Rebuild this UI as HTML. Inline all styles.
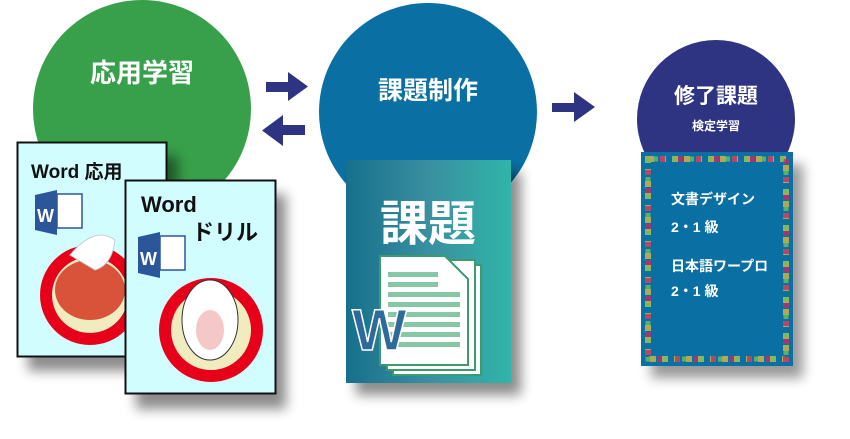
<!DOCTYPE html>
<html><head><meta charset="utf-8"><style>
html,body{margin:0;padding:0;background:#fff;}
svg{display:block}
text{font-family:"Liberation Sans","Noto Sans CJK JP",sans-serif;font-weight:bold}
</style></head><body>
<svg width="850" height="439" viewBox="0 0 850 439" xmlns="http://www.w3.org/2000/svg">
<defs>
<filter id="sh" x="-20%" y="-20%" width="150%" height="150%"><feGaussianBlur stdDeviation="6"/></filter>
<linearGradient id="tg" x1="0" x2="1"><stop offset="0" stop-color="#16708c"/><stop offset="0.5" stop-color="#3a8fa0"/><stop offset="1" stop-color="#30b5a8"/></linearGradient>
</defs>
<circle cx="142" cy="109" r="109" fill="#38a04b"/>
<circle cx="428" cy="112" r="109" fill="#0a6fa3"/>
<circle cx="716" cy="119" r="79" fill="#2e3481"/>
<text x="142" y="82" fill="#fff" font-size="26" text-anchor="middle">応用学習</text>
<text x="428" y="99" fill="#fff" font-size="25" text-anchor="middle">課題制作</text>
<text x="716" y="103" fill="#fff" font-size="21" text-anchor="middle">修了課題</text>
<text x="716" y="130" fill="#fff" font-size="12" text-anchor="middle">検定学習</text>
<g fill="#2e3481">
<polygon points="266,82 288,82 288,72 308,86.5 288,101 288,92 266,92"/>
<polygon points="305,125 283,125 283,115 262,130.5 283,146 283,135 305,135"/>
<polygon points="552,103 574,103 574,92 595,107 574,122 574,112 552,112"/>
</g>
<rect x="28" y="156" width="150" height="215" fill="#000" opacity="0.45" filter="url(#sh)"/>
<rect x="136" y="194" width="150" height="215" fill="#000" opacity="0.45" filter="url(#sh)"/>
<rect x="356" y="172" width="165" height="223" fill="#000" opacity="0.45" filter="url(#sh)"/>
<rect x="651" y="164" width="152" height="214" fill="#000" opacity="0.4" filter="url(#sh)"/>
<rect x="17.5" y="142.5" width="149" height="214" fill="#d2fdfe" stroke="#111" stroke-width="2"/>
<text x="31" y="178" font-size="19" fill="#111">Word 応用</text>
<polygon points="35,195 57,190 57,235 35,230" fill="#2b579a"/>
<rect x="57" y="194" width="25" height="34" fill="#fff" stroke="#2b579a" stroke-width="1.5"/>
<text x="37" y="222" fill="#fff" font-size="18">W</text>
<circle cx="90" cy="295" r="50" fill="#e6001a"/>
<circle cx="90" cy="295" r="38" fill="#f0ecc0"/>
<ellipse cx="90" cy="290" rx="35" ry="30" fill="#d9533a"/>
<path d="M70,255 Q95,225 115,240 Q112,265 95,270 Z" fill="#fff" stroke="#ccc"/>
<rect x="125.5" y="180.5" width="150" height="213" fill="#d2fdfe" stroke="#111" stroke-width="2"/>
<text x="141" y="212" font-size="22" fill="#111">Word</text>
<text x="192" y="240" font-size="22" fill="#111">ドリル</text>
<polygon points="138,237 160,232 160,278 138,273" fill="#2b579a"/>
<rect x="160" y="236" width="25" height="34" fill="#fff" stroke="#2b579a" stroke-width="1.5"/>
<text x="140" y="265" fill="#fff" font-size="18">W</text>
<circle cx="211" cy="330" r="52" fill="#e6001a"/>
<circle cx="211" cy="330" r="40" fill="#f0ecc0"/>
<ellipse cx="210" cy="320" rx="28" ry="40" fill="#fff" stroke="#333"/>
<ellipse cx="210" cy="330" rx="14" ry="20" fill="#f5c8c8"/>
<rect x="346" y="160" width="165" height="223" fill="url(#tg)"/>
<text x="428" y="240" fill="#fff" font-size="48" text-anchor="middle">課題</text>
<rect x="393" y="265" width="88" height="110" fill="#fff" stroke="#3d9a6e" stroke-width="2"/>
<rect x="387" y="260" width="88" height="110" fill="#fff" stroke="#3d9a6e" stroke-width="2"/>
<polygon points="380,256 445,256 468,279 468,365 380,365" fill="#fff" stroke="#3d9a6e" stroke-width="2"/>
<g fill="#86c8a6">
<rect x="388" y="272" width="50" height="5"/><rect x="388" y="282" width="50" height="5"/><rect x="388" y="292" width="72" height="5"/><rect x="388" y="302" width="72" height="5"/><rect x="388" y="312" width="72" height="5"/><rect x="388" y="322" width="72" height="5"/><rect x="388" y="332" width="72" height="5"/><rect x="388" y="342" width="72" height="5"/>
</g>
<text x="352" y="350" fill="#2f6b9a" font-size="58" stroke="#fff" stroke-width="1.5">W</text>
<rect x="641" y="152" width="152" height="214" fill="#0a6fa3"/>
<rect x="648" y="159" width="138" height="200" fill="none" stroke="#d8b840" stroke-width="6" stroke-dasharray="6 6" opacity="0.8"/>
<rect x="648" y="159" width="138" height="200" fill="none" stroke="#b93068" stroke-width="6" stroke-dasharray="5 13" stroke-dashoffset="6" opacity="0.8"/>
<rect x="648" y="159" width="138" height="200" fill="none" stroke="#6cc060" stroke-width="5" stroke-dasharray="4 14" stroke-dashoffset="12" opacity="0.8"/>
<g fill="#fff" font-size="14">
<text x="671" y="204">文書デザイン</text>
<text x="671" y="232">2・1 級</text>
<text x="671" y="271">日本語ワープロ</text>
<text x="671" y="296">2・1 級</text>
</g>
</svg>
</body></html>
